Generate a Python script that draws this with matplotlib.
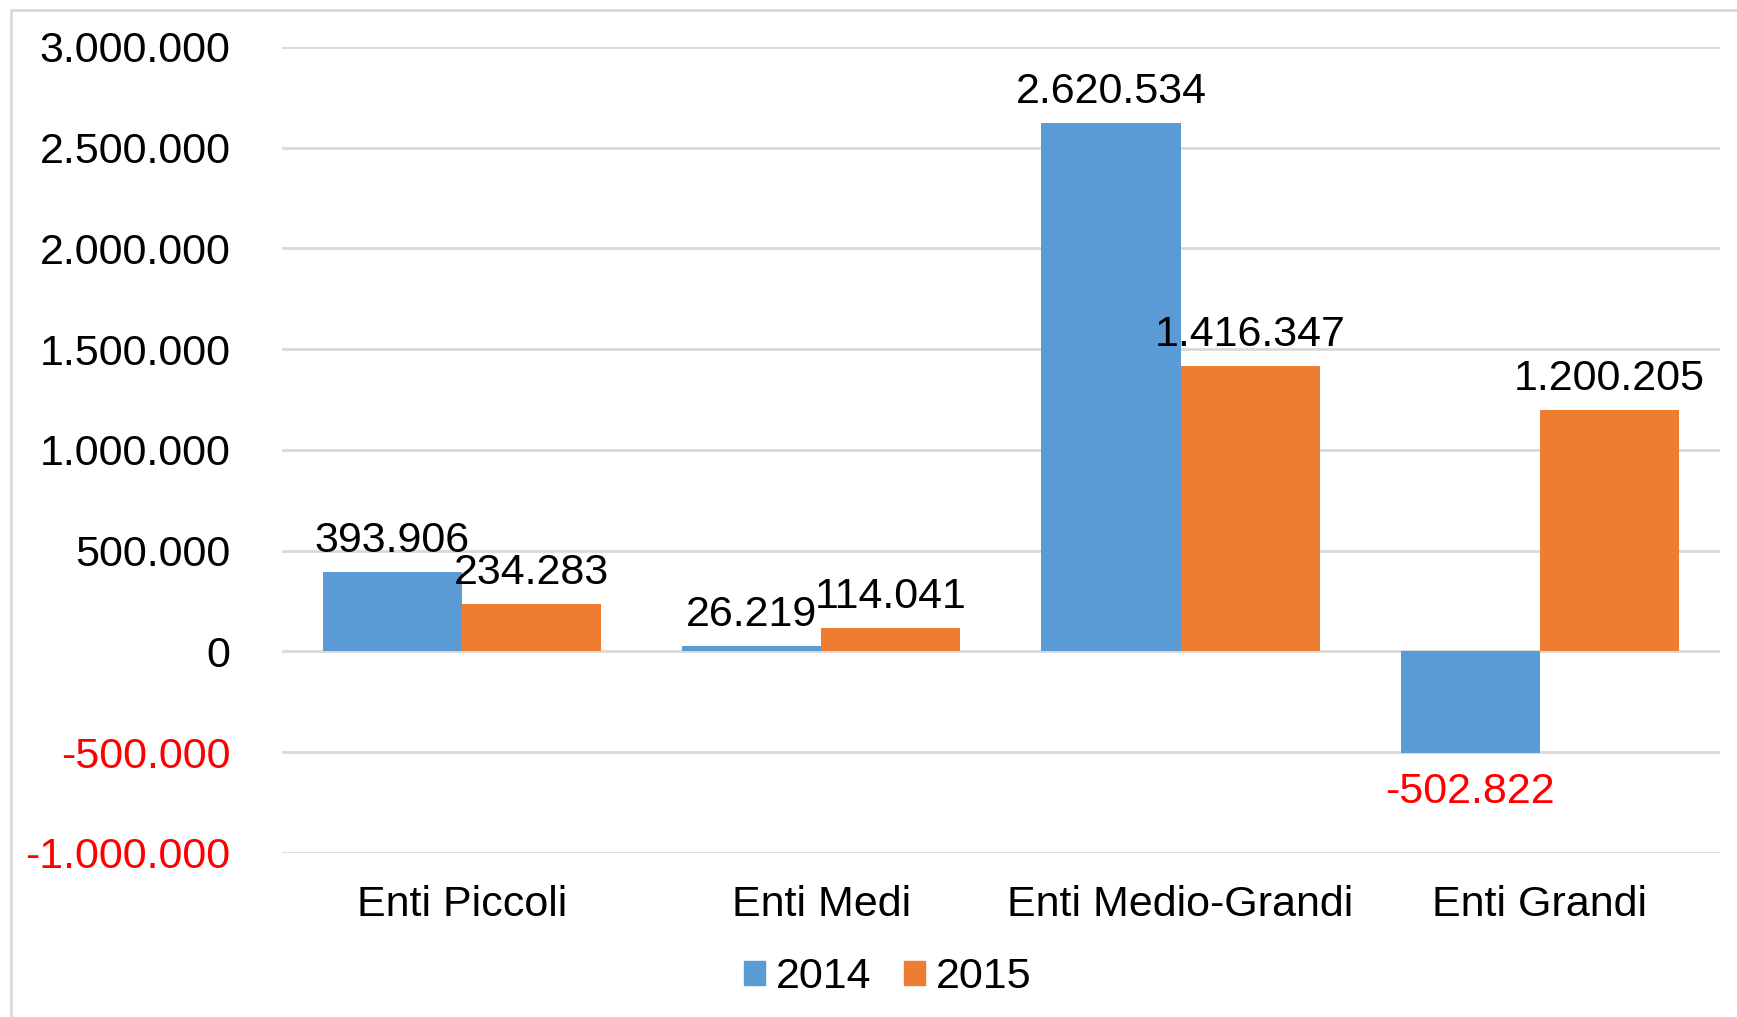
import matplotlib.pyplot as plt
import matplotlib.patches as mpatches
import numpy as np

plt.rcParams['font.family'] = ['Liberation Sans', 'DejaVu Sans']

categorie = ['Enti Piccoli', 'Enti Medi', 'Enti Medio-Grandi', 'Enti Grandi']
valori_2014 = [393906, 26219, 2620534, -502822]
valori_2015 = [234283, 114041, 1416347, 1200205]
tick_y = [-1000000, -500000, 0, 500000, 1000000, 1500000, 2000000, 2500000, 3000000]

blu = '#5B9BD5'
arancio = '#ED7D31'
fs = 31


def fmt(v):
    return f'{v:,}'.replace(',', '.')


fig = plt.figure(figsize=(17.37, 10.17), dpi=100)
ax = fig.add_axes([0.1624, 0.1613, 0.990 - 0.1624, 0.9538 - 0.1613])

x = np.arange(len(categorie))
w = 0.387
b1 = ax.bar(x - w / 2, valori_2014, w, color=blu, zorder=2)
b2 = ax.bar(x + w / 2, valori_2015, w, color=arancio, zorder=2)

ax.set_xlim(-0.5, len(categorie) - 0.5)
ax.set_ylim(-1000000, 3000000)
ax.set_yticks(tick_y)
ax.set_yticklabels([fmt(v) for v in tick_y])
for lab, v in zip(ax.get_yticklabels(), tick_y):
    lab.set_color('#FF0000' if v < 0 else 'black')
ax.set_xticks(x)
ax.set_xticklabels(categorie)
ax.tick_params(axis='y', length=0, pad=37, labelsize=fs)
ax.tick_params(axis='x', length=0, pad=23, labelsize=fs)
ax.grid(axis='y', color='#D9D9D9', linewidth=2, zorder=0)
for s in ax.spines.values():
    s.set_visible(False)

for barre, valori in [(b1, valori_2014), (b2, valori_2015)]:
    for r, v in zip(barre, valori):
        cx = r.get_x() + r.get_width() / 2
        if v >= 0:
            ax.annotate(fmt(v), (cx, v), xytext=(0, 8), textcoords='offset points',
                        ha='center', va='bottom', fontsize=fs, color='black')
        else:
            ax.annotate(fmt(v), (cx, v), xytext=(0, -14), textcoords='offset points',
                        ha='center', va='top', fontsize=fs, color='#FF0000')

handles = [mpatches.Patch(color=blu, label='2014'), mpatches.Patch(color=arancio, label='2015')]
fig.legend(handles=handles, loc='center', bbox_to_anchor=(0.511, 0.039), ncol=2,
           frameon=False, fontsize=fs, handlelength=0.5, handleheight=0.5,
           handletextpad=0.25, columnspacing=0.75)

fig.patches.append(mpatches.Rectangle((11 / 1737, -0.1), 1.2, 1 - 10 / 1017 + 0.1,
                                      transform=fig.transFigure, fill=False,
                                      edgecolor='#D9D9D9', linewidth=2))

fig.savefig('out.png', dpi=100)
